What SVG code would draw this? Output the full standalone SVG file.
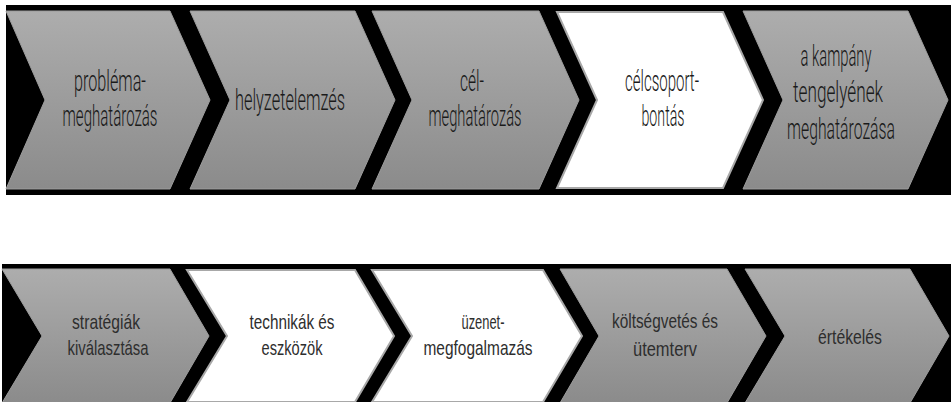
<svg xmlns="http://www.w3.org/2000/svg" width="951" height="402" viewBox="0 0 951 402">
<defs>
<linearGradient id="g" x1="0" y1="0" x2="0" y2="1">
<stop offset="0" stop-color="#adadad"/>
<stop offset="1" stop-color="#8b8b8b"/>
</linearGradient>
<style>
.grey{fill:url(#g);stroke:#9c9c9c;stroke-width:1}
.white{fill:#ffffff;stroke:#a8a8a8;stroke-width:2}
.t1{font-family:Roboto,"Liberation Sans",Arial,sans-serif;font-weight:300;font-size:30px;fill:#1a1a1a;text-anchor:middle}
.t2{font-family:"Liberation Sans",Arial,sans-serif;font-size:21px;fill:#2e2e2e;text-anchor:middle}
</style>
</defs>
<rect x="6" y="5" width="945" height="190" fill="#000"/>
<rect x="2" y="264" width="949" height="138" fill="#000"/>
<g id="connectors"/>
<g id="n1">
<path class="grey" d="M6,11 L170,11 L210,100 L170,189 L6,189 L45,100 Z"/>
<text class="t1" x="110" y="91" textLength="72" lengthAdjust="spacingAndGlyphs">probléma-</text>
<text class="t1" x="110" y="126" textLength="95" lengthAdjust="spacingAndGlyphs">meghatározás</text>
</g>
<g id="n2">
<path class="grey" d="M190,11 L355,11 L395,100 L355,189 L190,189 L230,100 Z"/>
<text class="t1" x="290" y="110" textLength="110" lengthAdjust="spacingAndGlyphs">helyzetelemzés</text>
</g>
<g id="n3">
<path class="grey" d="M372,11 L539,11 L579,100 L539,189 L372,189 L412,100 Z"/>
<text class="t1" x="472" y="91" textLength="24" lengthAdjust="spacingAndGlyphs">cél-</text>
<text class="t1" x="475" y="126" textLength="93" lengthAdjust="spacingAndGlyphs">meghatározás</text>
</g>
<g id="n4">
<path class="white" d="M557,12 L723,12 L763,100 L723,188 L557,188 L597,100 Z"/>
<text class="t1" x="662" y="91" textLength="74" lengthAdjust="spacingAndGlyphs">célcsoport-</text>
<text class="t1" x="663" y="126" textLength="43" lengthAdjust="spacingAndGlyphs">bontás</text>
</g>
<g id="n5">
<path class="grey" d="M743,11 L908,11 L948,100 L908,189 L743,189 L783,100 Z"/>
<text class="t1" x="836" y="66" textLength="71" lengthAdjust="spacingAndGlyphs">a kampány</text>
<text class="t1" x="838" y="102" textLength="90" lengthAdjust="spacingAndGlyphs">tengelyének</text>
<text class="t1" x="841" y="139" textLength="108" lengthAdjust="spacingAndGlyphs">meghatározása</text>
</g>
<g id="n6">
<path class="grey" d="M2,269 L170,269 L209,336 L170,403 L2,403 L42,336 Z"/>
<text class="t2" x="106" y="329" textLength="68" lengthAdjust="spacingAndGlyphs">stratégiák</text>
<text class="t2" x="108" y="355" textLength="81" lengthAdjust="spacingAndGlyphs">kiválasztása</text>
</g>
<g id="n7">
<path class="white" d="M187,270 L355,270 L394,336 L355,402 L187,402 L227,336 Z"/>
<text class="t2" x="292" y="329" textLength="85" lengthAdjust="spacingAndGlyphs">technikák és</text>
<text class="t2" x="292" y="355" textLength="61" lengthAdjust="spacingAndGlyphs">eszközök</text>
</g>
<g id="n8">
<path class="white" d="M372,270 L543,270 L582,336 L543,402 L372,402 L412,336 Z"/>
<text class="t2" x="483" y="329" textLength="43" lengthAdjust="spacingAndGlyphs">üzenet-</text>
<text class="t2" x="478" y="355" textLength="109" lengthAdjust="spacingAndGlyphs">megfogalmazás</text>
</g>
<g id="n9">
<path class="grey" d="M560,269 L727,269 L766,336 L727,403 L560,403 L599,336 Z"/>
<text class="t2" x="665" y="328" textLength="106" lengthAdjust="spacingAndGlyphs">költségvetés és</text>
<text class="t2" x="665" y="356" textLength="64" lengthAdjust="spacingAndGlyphs">ütemterv</text>
</g>
<g id="n10">
<path class="grey" d="M745,269 L910,269 L949,336 L910,403 L745,403 L785,336 Z"/>
<text class="t2" x="850" y="344" textLength="64" lengthAdjust="spacingAndGlyphs">értékelés</text>
</g>
</svg>
